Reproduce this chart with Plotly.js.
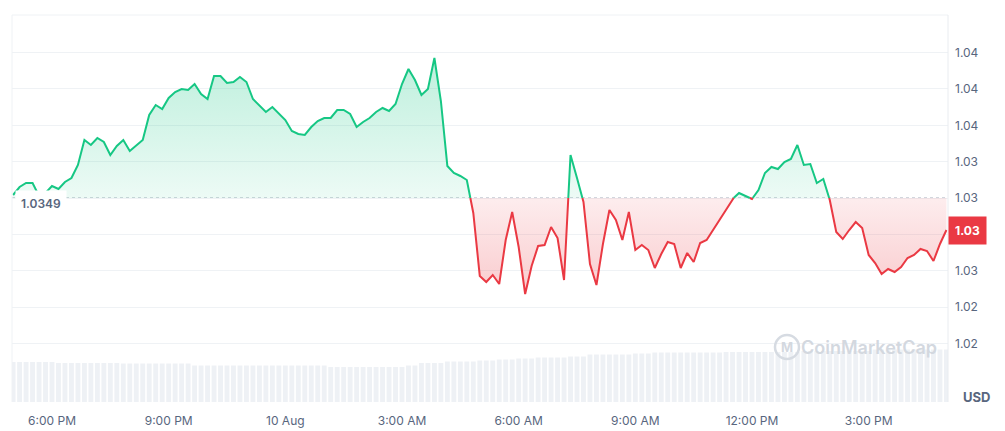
<!DOCTYPE html>
<html>
<head>
<meta charset="utf-8">
<script src="https://cdn.plot.ly/plotly-3.0.1.min.js"></script>
<style>
  html, body { margin: 0; padding: 0; background: #ffffff; }
  #chart { width: 1005px; height: 431px; }
</style>
</head>
<body>
<div id="chart"></div>
<script>
// ---------------- DATA ----------------
const BASE_PRICE = 1.0349;          // reference (open) price shown on the left
const START_TIME = Date.UTC(2024, 7, 9, 17, 0); // 9 Aug, 5:00 PM
const STEP_MINUTES = 10;

const PRICES = [
  1.03493, 1.03501, 1.03505, 1.03505, 1.03492, 1.03495, 1.03502, 1.03499, 1.03506, 1.03510,
  1.03523, 1.03548, 1.03543, 1.03550, 1.03546, 1.03533, 1.03542, 1.03548, 1.03537, 1.03543,
  1.03548, 1.03573, 1.03583, 1.03579, 1.03590, 1.03596, 1.03599, 1.03598, 1.03604, 1.03594,
  1.03589, 1.03612, 1.03612, 1.03605, 1.03606, 1.03611, 1.03606, 1.03589, 1.03583, 1.03576,
  1.03581, 1.03575, 1.03568, 1.03557, 1.03554, 1.03553, 1.03561, 1.03567, 1.03570, 1.03570,
  1.03578, 1.03578, 1.03574, 1.03561, 1.03566, 1.03570, 1.03576, 1.03580, 1.03577, 1.03584,
  1.03604, 1.03619, 1.03608, 1.03593, 1.03599, 1.03630, 1.03587, 1.03522, 1.03515, 1.03512,
  1.03508, 1.03475, 1.03412, 1.03406, 1.03413, 1.03404, 1.03448, 1.03476, 1.03441, 1.03394,
  1.03422, 1.03442, 1.03443, 1.03461, 1.03450, 1.03408, 1.03533, 1.03510, 1.03486, 1.03424,
  1.03403, 1.03444, 1.03478, 1.03468, 1.03448, 1.03476, 1.03438, 1.03443, 1.03438, 1.03420,
  1.03434, 1.03446, 1.03444, 1.03420, 1.03435, 1.03426, 1.03445, 1.03448, 1.03458, 1.03468,
  1.03478, 1.03489, 1.03495, 1.03492, 1.03489, 1.03498, 1.03515, 1.03521, 1.03519, 1.03526,
  1.03529, 1.03543, 1.03523, 1.03524, 1.03505, 1.03509, 1.03488, 1.03456, 1.03449, 1.03458,
  1.03466, 1.03460, 1.03433, 1.03425, 1.03414, 1.03419, 1.03416, 1.03421, 1.03430, 1.03433,
  1.03439, 1.03437, 1.03427, 1.03444, 1.03458
];

// 24h volume (millions USD)
const VOLUMES = [
  80, 80, 80, 80, 80, 80, 80, 78, 78, 78,
  78, 78, 78, 78, 78, 78, 78, 77, 77, 77,
  77, 77, 77, 77, 77, 77, 77, 77, 73, 73,
  73, 73, 73, 73, 73, 73, 73, 73, 73, 73,
  73, 73, 73, 73, 73, 73, 73, 73, 73, 70,
  70, 70, 70, 70, 70, 70, 70, 70, 70, 70,
  70, 73, 73, 78, 78, 78, 78, 81, 81, 81,
  81, 81, 83, 83, 83, 85, 85, 85, 87, 87,
  87, 89, 89, 89, 89, 89, 91, 91, 91, 95,
  95, 95, 95, 95, 95, 95, 97, 97, 97, 99,
  99, 99, 99, 99, 99, 99, 99, 99, 99, 99,
  100, 100, 100, 100, 100, 100, 100, 100, 100, 100,
  100, 100, 102, 102, 102, 102, 102, 102, 102, 102,
  102, 102, 102, 105, 105, 105, 105, 105, 105, 105,
  105, 105, 105, 105, 105
];

const X_TICK_LABELS = ["6:00 PM", "9:00 PM", "10 Aug", "3:00 AM", "6:00 AM", "9:00 AM", "12:00 PM", "3:00 PM"];
// the sixth label sits under the current-price tag in the reference, so it is not visible
const Y_TICK_LABELS = ["1.04", "1.04", "1.04", "1.03", "1.03", "", "1.03", "1.02", "1.02"];

// ---------------- STYLE ----------------
const GREEN = '#16c784';
const RED = '#ea3943';
const TXT = '#58667e';
const GRID = '#eff2f5';
const FONT = 'Inter, "Noto Sans", sans-serif';

// ---------------- BUILD ----------------
const times = PRICES.map((_, i) => START_TIME + i * STEP_MINUTES * 60000);
const HOUR = 3600000;
const xTickVals = X_TICK_LABELS.map((_, k) => Date.UTC(2024, 7, 9, 18, 0) + k * 3 * HOUR);
const Y_STEP = 0.0003635;
const yTickVals = Y_TICK_LABELS.map((_, i) => BASE_PRICE + (4 - i) * Y_STEP);

// insert base-crossing points so the two colours meet exactly on the base line
const pts = [];
for (let i = 0; i < PRICES.length; i++) {
  if (i > 0) {
    const v0 = PRICES[i - 1], v1 = PRICES[i];
    if ((v0 - BASE_PRICE) * (v1 - BASE_PRICE) < 0) {
      const t = (BASE_PRICE - v0) / (v1 - v0);
      pts.push({ x: times[i - 1] + t * (times[i] - times[i - 1]), v: BASE_PRICE });
    }
  }
  pts.push({ x: times[i], v: PRICES[i] });
}
const px = pts.map(p => p.x);
const greenLine = pts.map(p => p.v >= BASE_PRICE ? p.v : null);
const redLine = pts.map(p => p.v <= BASE_PRICE ? p.v : null);
// closed polygons (area between the price and the base line), filled with 'toself'
const firstX = times[0], lastX = times[times.length - 1];
const polyX = [firstX, ...px, lastX];
const greenPolyY = [BASE_PRICE, ...pts.map(p => Math.max(p.v, BASE_PRICE)), BASE_PRICE];
const redPolyY = [BASE_PRICE, ...pts.map(p => Math.min(p.v, BASE_PRICE)), BASE_PRICE];
const maxP = Math.max(...PRICES), minP = Math.min(...PRICES);

const traces = [
  { type: 'bar', x: times, y: VOLUMES, xaxis: 'x', yaxis: 'y2',
    marker: { color: '#eef1f5', line: { width: 0 } }, hoverinfo: 'skip' },
  { type: 'scatter', mode: 'lines', x: polyX, y: greenPolyY, line: { width: 0 }, fill: 'toself',
    fillcolor: 'rgba(22,199,132,0.18)',
    fillgradient: { type: 'vertical', start: BASE_PRICE, stop: maxP,
      colorscale: [[0, 'rgba(22,199,132,0.08)'], [1, 'rgba(22,199,132,0.28)']] },
    hoverinfo: 'skip' },
  { type: 'scatter', mode: 'lines', x: polyX, y: redPolyY, line: { width: 0 }, fill: 'toself',
    fillcolor: 'rgba(234,57,67,0.15)',
    fillgradient: { type: 'vertical', start: minP, stop: BASE_PRICE,
      colorscale: [[0, 'rgba(234,57,67,0.26)'], [1, 'rgba(234,57,67,0.09)']] },
    hoverinfo: 'skip' },
  { type: 'scatter', mode: 'lines', x: px, y: greenLine, connectgaps: false,
    line: { color: GREEN, width: 2 }, hoverinfo: 'skip' },
  { type: 'scatter', mode: 'lines', x: px, y: redLine, connectgaps: false,
    line: { color: RED, width: 2 }, hoverinfo: 'skip' }
];

// paper-pixel helpers for decorations
const PL = 12, PR = 948, PT = 15, PB = 402;
const pxX = v => (v - PL) / (PR - PL);
const pxY = v => (PB - v) / (PB - PT);

const layout = {
  width: 1005, height: 431,
  margin: { l: PL, r: 1005 - PR, t: PT, b: 431 - PB },
  paper_bgcolor: '#ffffff', plot_bgcolor: '#ffffff',
  showlegend: false, hovermode: false, bargap: 0.25,
  font: { family: FONT, color: TXT, size: 12 },
  xaxis: {
    type: 'date',
    range: [START_TIME - 103000, START_TIME + 24 * HOUR + 144000],
    tickmode: 'array', tickvals: xTickVals, ticktext: X_TICK_LABELS,
    showgrid: false, zeroline: false, showline: false, ticks: '',
    ticklabelstandoff: 10,
    tickfont: { family: FONT, size: 12, color: TXT }
  },
  yaxis: {
    side: 'right',
    range: [BASE_PRICE - 0.00204, BASE_PRICE + 0.00183],
    tickmode: 'array', tickvals: yTickVals, ticktext: Y_TICK_LABELS,
    showgrid: true, gridcolor: GRID, gridwidth: 1,
    zeroline: false, showline: false, ticks: '',
    ticklabelstandoff: 6,
    tickfont: { family: FONT, size: 12, color: TXT }
  },
  yaxis2: {
    overlaying: 'y', range: [0, 774], visible: false, fixedrange: true
  },
  shapes: [
    { type: 'line', xref: 'paper', yref: 'paper', x0: 0, x1: 0, y0: 0, y1: 1, line: { color: GRID, width: 1 } },
    { type: 'line', xref: 'paper', yref: 'paper', x0: 0, x1: 1, y0: 1, y1: 1, line: { color: GRID, width: 1 } },
    { type: 'line', xref: 'paper', yref: 'paper', x0: 1, x1: 1, y0: 0, y1: 1, line: { color: '#e9ecf0', width: 1 } },
    { type: 'line', xref: 'paper', yref: 'y', x0: 0, x1: 1, y0: BASE_PRICE, y1: BASE_PRICE, layer: 'below',
      line: { color: '#a6aebb', width: 1.2, dash: 'dot' } },
    { type: 'circle', xref: 'paper', yref: 'paper',
      x0: pxX(775), x1: pxX(799), y0: pxY(359), y1: pxY(335),
      line: { color: '#d6dbe2', width: 2.5 } }
  ],
  annotations: [
    { xref: 'paper', yref: 'y', x: 0, y: BASE_PRICE, xanchor: 'left', yanchor: 'middle',
      xshift: 3, yshift: -5, text: BASE_PRICE.toFixed(4), showarrow: false,
      bgcolor: '#ffffff', borderpad: 5,
      font: { family: FONT, size: 12, color: TXT, weight: 600 } },
    { xref: 'paper', yref: 'y', x: 1, y: PRICES[PRICES.length - 1], xanchor: 'left', yanchor: 'middle',
      xshift: 0, text: PRICES[PRICES.length - 1].toFixed(2), showarrow: false,
      bgcolor: RED, borderpad: 6,
      font: { family: FONT, size: 12, color: '#ffffff', weight: 700 } },
    { xref: 'paper', yref: 'paper', x: 1, y: pxY(397), xanchor: 'center', yanchor: 'middle',
      xshift: 28, text: 'USD', showarrow: false,
      font: { family: FONT, size: 13, color: TXT, weight: 700 } },
    { xref: 'paper', yref: 'paper', x: pxX(869), y: pxY(347), xanchor: 'center', yanchor: 'middle',
      text: 'CoinMarketCap', showarrow: false,
      font: { family: FONT, size: 18, color: '#d3d8df', weight: 600 } },
    { xref: 'paper', yref: 'paper', x: pxX(787), y: pxY(347), xanchor: 'center', yanchor: 'middle',
      text: 'M', showarrow: false,
      font: { family: FONT, size: 13, color: '#d3d8df', weight: 700 } }
  ]
};

Plotly.newPlot('chart', traces, layout, { displayModeBar: false, staticPlot: true });
</script>
</body>
</html>
